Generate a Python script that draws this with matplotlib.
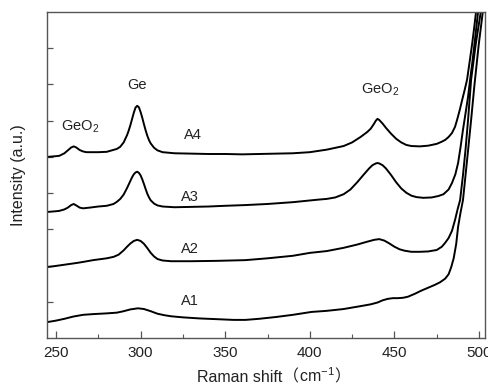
import matplotlib
matplotlib.use("Agg")
import matplotlib.pyplot as plt
from matplotlib.ticker import MultipleLocator, FixedLocator, NullFormatter
from matplotlib.offsetbox import TextArea, HPacker, AnchoredOffsetbox

plt.rcParams['font.family'] = ['Liberation Sans', 'Noto Sans CJK SC', 'DejaVu Sans']
plt.rcParams['mathtext.fontset'] = 'custom'
plt.rcParams['mathtext.rm'] = 'Liberation Sans'
plt.rcParams['mathtext.it'] = 'Liberation Sans:italic'
plt.rcParams['mathtext.bf'] = 'Liberation Sans:bold'

# ---- data (Raman shift in cm^-1, intensity in arbitrary offset units) ----
a1_x = [245, 250, 255, 260, 266, 272, 280, 286, 290, 294, 298.5, 302, 306, 310, 314,
        318, 325, 335, 345, 355, 362, 370, 380, 390, 401, 410, 420, 430, 436, 440,
        443, 446, 449, 452, 455, 458, 462, 466, 470, 474, 477, 480, 482, 483.5, 485,
        486.5, 487.6, 489, 490.5, 493, 495.3, 497.3, 499.8, 502.2, 503.4]
a1_y = [0.44, 0.48, 0.53, 0.59, 0.64, 0.66, 0.68, 0.70, 0.74, 0.79, 0.82, 0.80, 0.74, 0.67, 0.63,
        0.60, 0.57, 0.54, 0.52, 0.50, 0.50, 0.53, 0.58, 0.64, 0.72, 0.75, 0.80, 0.88, 0.93, 0.98,
        1.04, 1.08, 1.10, 1.10, 1.11, 1.14, 1.22, 1.31, 1.39, 1.47, 1.54, 1.64, 1.76, 1.95, 2.20,
        2.60, 3.07, 3.45, 3.81, 4.95, 6.02, 7.00, 8.10, 9.00, 9.50]

a2_x = [245, 250, 256, 262, 266, 272, 280, 284, 287, 290, 292, 294, 296, 298, 300, 302,
        304, 306, 308, 310, 313, 318, 330, 345, 362, 375, 390, 400, 410, 420, 428, 434,
        438, 441, 444, 447, 450, 453, 456, 460, 465, 470, 475, 478, 480, 482, 484, 485.8,
        487.3, 488.8, 490.5, 492, 493.5, 495.3, 498, 501, 502.5]
a2_y = [1.96, 1.99, 2.03, 2.07, 2.10, 2.15, 2.20, 2.24, 2.30, 2.42, 2.52, 2.61, 2.68, 2.71, 2.68, 2.60,
        2.48, 2.35, 2.25, 2.18, 2.14, 2.12, 2.12, 2.13, 2.15, 2.20, 2.27, 2.35, 2.40, 2.49, 2.58, 2.66,
        2.71, 2.73, 2.69, 2.61, 2.52, 2.45, 2.41, 2.38, 2.38, 2.39, 2.43, 2.52, 2.63, 2.76, 2.96, 3.26,
        3.55, 3.81, 4.50, 5.20, 6.02, 7.13, 8.10, 9.00, 9.50]

a3_x = [245, 250, 252, 255, 257, 259, 260.5, 262, 264, 266, 270, 275, 280, 284, 286, 288,
        290, 292, 294, 295, 296, 297, 298, 299, 300, 301, 302, 303, 304, 305, 306, 308,
        310, 313, 320, 330, 340, 350, 362, 375, 390, 405, 410, 415, 420, 424, 428, 432,
        435, 437, 439, 440, 441, 443, 445, 448, 451, 454, 457, 460, 463, 467, 472, 476,
        479, 482, 484, 486, 487.6, 489, 490.5, 492, 493.5, 494.7, 496, 497.5, 499.4, 500.8]
a3_y = [3.48, 3.50, 3.51, 3.55, 3.60, 3.67, 3.70, 3.66, 3.60, 3.58, 3.60, 3.63, 3.65, 3.70, 3.76, 3.84,
        3.96, 4.14, 4.34, 4.44, 4.52, 4.57, 4.59, 4.56, 4.49, 4.38, 4.25, 4.11, 3.98, 3.88, 3.80, 3.71,
        3.66, 3.63, 3.61, 3.62, 3.63, 3.65, 3.67, 3.70, 3.75, 3.82, 3.84, 3.88, 3.97, 4.10, 4.30, 4.52,
        4.68, 4.77, 4.82, 4.83, 4.82, 4.77, 4.68, 4.50, 4.30, 4.13, 4.01, 3.93, 3.89, 3.87, 3.88, 3.92,
        3.97, 4.10, 4.28, 4.52, 4.83, 5.25, 5.75, 6.20, 6.66, 7.13, 7.60, 8.20, 9.00, 9.60]

a4_x = [245, 250, 252, 255, 257, 259, 260.5, 262, 264, 266, 268, 275, 280, 286, 288, 290,
        292, 293, 294, 295, 296, 297, 298, 299, 300, 301, 302, 303, 304, 305, 306, 308,
        310, 313, 320, 330, 340, 350, 360, 370, 380, 390, 400, 410, 420, 425, 430, 434,
        436, 438, 439, 440, 441, 443, 445, 448, 451, 454, 457, 460, 465, 470, 475, 478,
        480, 482, 484, 485.8, 487, 488.5, 490, 491.5, 492.9, 494.5, 496, 497.2, 498.2, 499.6]
a4_y = [5.00, 5.02, 5.03, 5.10, 5.18, 5.26, 5.29, 5.26, 5.19, 5.15, 5.13, 5.13, 5.14, 5.22, 5.28, 5.40,
        5.60, 5.73, 5.88, 6.05, 6.22, 6.36, 6.41, 6.37, 6.24, 6.08, 5.90, 5.73, 5.58, 5.46, 5.37, 5.25,
        5.18, 5.13, 5.10, 5.09, 5.08, 5.08, 5.07, 5.08, 5.09, 5.10, 5.13, 5.20, 5.30, 5.40, 5.55, 5.69,
        5.78, 5.92, 6.00, 6.05, 6.02, 5.92, 5.80, 5.64, 5.50, 5.40, 5.33, 5.30, 5.29, 5.31, 5.36, 5.42,
        5.47, 5.55, 5.66, 5.83, 6.02, 6.28, 6.57, 6.85, 7.13, 7.65, 8.15, 8.60, 9.00, 9.60]

series = [(a1_x, a1_y), (a2_x, a2_y), (a3_x, a3_y), (a4_x, a4_y)]
sample_labels = ["A1", "A2", "A3", "A4"]
sample_label_pos = [(329, 1.02), (329, 2.46), (329, 3.90), (331, 5.61)]
peak_labels = ["GeO$_2$", "Ge", "GeO$_2$"]
peak_label_pos = [(264, 5.83), (298, 6.99), (441.5, 6.85)]
x_ticks = [250, 300, 350, 400, 450, 500]
y_ticks = [1, 2, 3, 4, 5, 6, 7, 8]

fig = plt.figure(figsize=(4.89, 3.87), dpi=100)
ax = fig.add_axes([0.0961, 0.1266, 0.8957, 0.8424])

for x, y in series:
    ax.plot(x, y, color='black', lw=1.4, solid_joinstyle='round', solid_capstyle='round')

ax.set_xlim(244.7, 503.5)
ax.set_ylim(0, 9.0)

txt_color = '#222222'
for lab, (px, py) in zip(sample_labels, sample_label_pos):
    ax.text(px, py, lab, ha='center', va='center', fontsize=10.5, color=txt_color)
for lab, (px, py) in zip(peak_labels, peak_label_pos):
    ax.text(px, py, lab, ha='center', va='center', fontsize=10.5, color=txt_color)

ax.xaxis.set_major_locator(FixedLocator(x_ticks))
ax.xaxis.set_minor_locator(MultipleLocator(25))
ax.yaxis.set_major_locator(FixedLocator(y_ticks))
ax.yaxis.set_major_formatter(NullFormatter())
ax.tick_params(axis='x', which='major', direction='in', length=5, width=0.9,
               labelsize=11, colors='#555555', labelcolor=txt_color, pad=6)
ax.tick_params(axis='x', which='minor', direction='in', length=3, width=0.8, colors='#555555')
ax.tick_params(axis='y', which='major', direction='in', length=4, width=0.9, colors='#555555')

for s in ax.spines.values():
    s.set_color('#555555')
    s.set_linewidth(1.0)

# x label: mixed Latin / full-width parentheses / superscript
fs = 11.5
parts = [
    TextArea("Raman shift", textprops=dict(fontsize=fs, color=txt_color, family='Liberation Sans')),
    TextArea("\uff08", textprops=dict(fontsize=fs, color=txt_color, family='Noto Sans CJK SC')),
    TextArea("cm$^{-1}$", textprops=dict(fontsize=fs, color=txt_color, family='Liberation Sans')),
    TextArea("\uff09", textprops=dict(fontsize=fs, color=txt_color, family='Noto Sans CJK SC')),
]
box = HPacker(children=parts, align='baseline', pad=0, sep=0)
anch = AnchoredOffsetbox(loc='center', child=box, pad=0, borderpad=0, frameon=False,
                         bbox_to_anchor=(274 / 489, 1 - 376 / 387),
                         bbox_transform=fig.transFigure)
fig.add_artist(anch)

ax.set_ylabel("Intensity (a.u.)", fontsize=fs, color=txt_color)
ax.yaxis.set_label_coords(-(47 - 26) / 438, 0.5)

fig.savefig("out.png", dpi=100)
